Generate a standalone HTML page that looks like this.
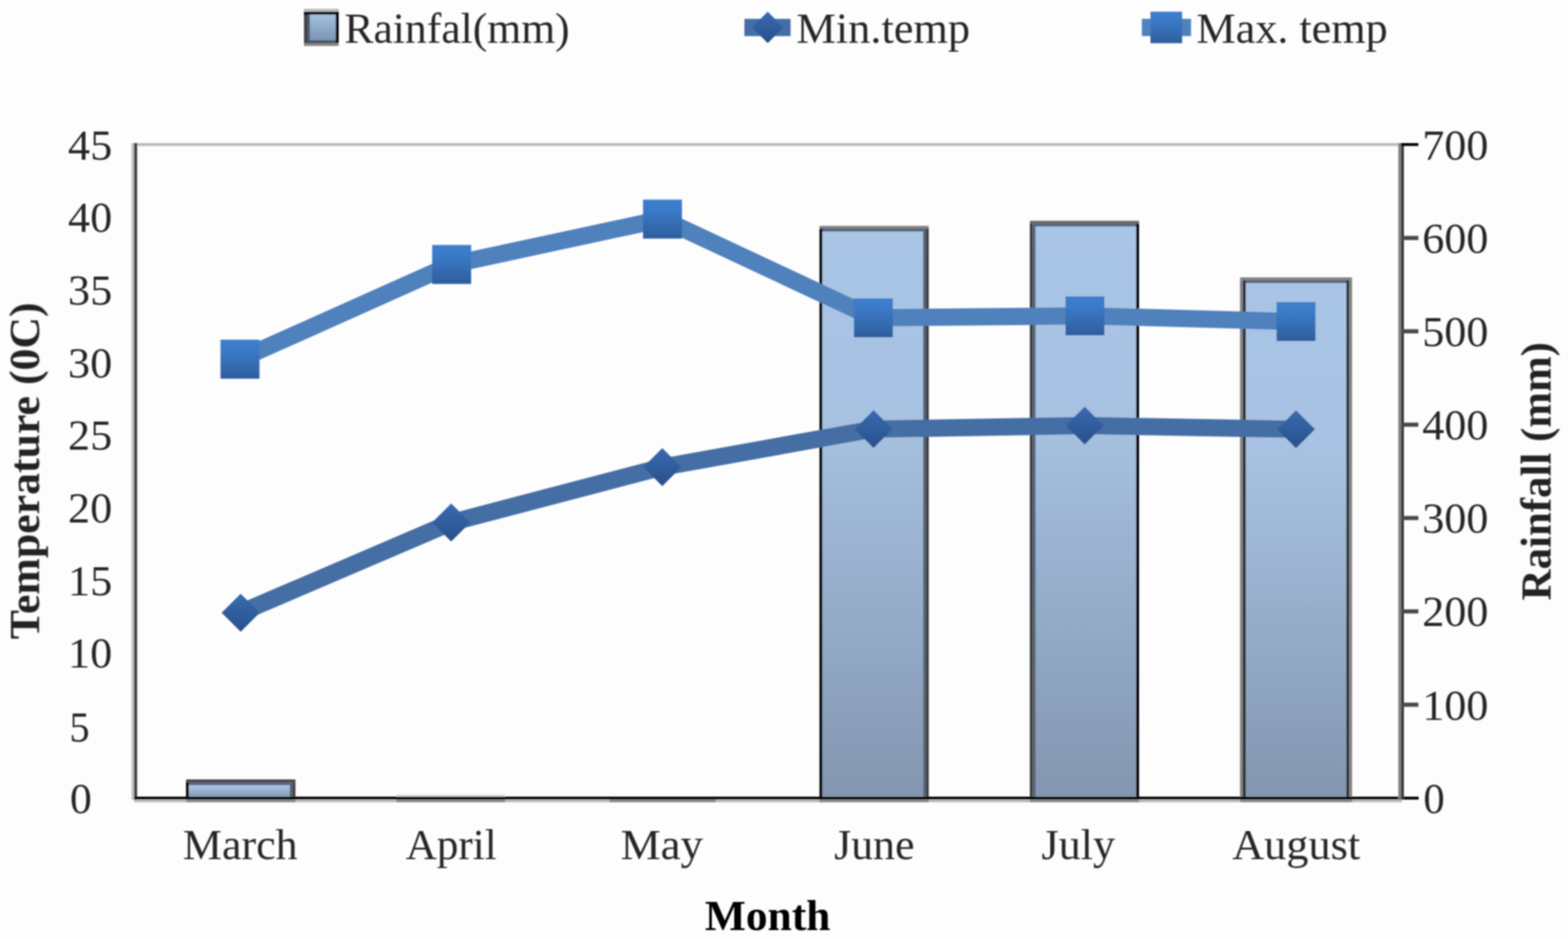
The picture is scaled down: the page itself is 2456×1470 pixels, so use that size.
<!DOCTYPE html>
<html lang="en"><head><meta charset="utf-8"><title>Rainfall and temperature by month</title>
<style>html,body{margin:0;padding:0;background:#fff;}body{width:2456px;height:1470px;overflow:hidden;}svg{display:block;}text{font-family:"Liberation Serif","Times New Roman",serif;font-size:67.5px;fill:#262626;}.b{font-weight:bold;fill:#000;}.v{fill:#242424;}</style></head><body>
<svg width="2456" height="1470" viewBox="0 0 2456 1470">
<defs>
<linearGradient id="gb" x1="0" y1="0" x2="0" y2="1"><stop offset="0" stop-color="#a9c5e6"/><stop offset="0.35" stop-color="#a7c1e1"/><stop offset="1" stop-color="#8396b0"/></linearGradient>
<linearGradient id="gl" x1="0" y1="0" x2="0" y2="1"><stop offset="0" stop-color="#a4c0e2"/><stop offset="1" stop-color="#7d93b2"/></linearGradient>
<linearGradient id="gs" x1="0" y1="0" x2="0" y2="1"><stop offset="0" stop-color="#3d7ecd"/><stop offset="0.25" stop-color="#3b7bc8"/><stop offset="1" stop-color="#2e5e9d"/></linearGradient>
<linearGradient id="gd" x1="0" y1="0" x2="0" y2="1"><stop offset="0" stop-color="#386bb0"/><stop offset="1" stop-color="#28508a"/></linearGradient>
<filter id="soft" x="0" y="0" width="2456" height="1470" filterUnits="userSpaceOnUse"><feGaussianBlur stdDeviation="0.9"/></filter>
</defs>
<rect x="0" y="0" width="2456" height="1470" fill="#fdfdfd"/>
<g filter="url(#soft)">
<rect x="210" y="224" width="1985" height="4.5" fill="#bbbbbb"/>
<rect x="206" y="224" width="4.2" height="1028" fill="#c0c0c0"/>
<rect x="210" y="224" width="4.8" height="1028" fill="#404040"/>
<rect x="210" y="1251.6" width="1986" height="4.4" fill="#bdbdbd"/>
<rect x="295.8" y="1224.7" width="158.0" height="22.8" fill="url(#gb)"/>
<rect x="291.4" y="1220.3" width="171.3" height="4.4" fill="#404040"/>
<rect x="295.8" y="1224.7" width="158.0" height="4.4" fill="#566578"/>
<rect x="291.4" y="1224.7" width="4.5" height="22.8" fill="#000000"/>
<rect x="453.8" y="1224.7" width="4.5" height="22.8" fill="#566578"/>
<rect x="458.2" y="1224.7" width="4.5" height="22.8" fill="#404040"/>
<rect x="291.4" y="1251.6" width="171.3" height="4.4" fill="#8c8c8c"/>
<rect x="1288.0" y="358.0" width="157.8" height="889.5" fill="url(#gb)"/>
<rect x="1283.6" y="353.6" width="171.1" height="4.4" fill="#808080"/>
<rect x="1288.0" y="358.0" width="157.8" height="4.4" fill="#566578"/>
<rect x="1283.6" y="358.0" width="4.5" height="889.5" fill="#000000"/>
<rect x="1445.8" y="358.0" width="4.5" height="889.5" fill="#566578"/>
<rect x="1450.2" y="358.0" width="4.5" height="889.5" fill="#3a3a3a"/>
<rect x="1283.6" y="1251.6" width="171.1" height="4.4" fill="#8c8c8c"/>
<rect x="1622.0" y="350.1" width="157.7" height="897.4" fill="url(#gb)"/>
<rect x="1613.1" y="345.7" width="171.0" height="4.4" fill="#686868"/>
<rect x="1622.0" y="350.1" width="157.7" height="4.4" fill="#566578"/>
<rect x="1613.1" y="350.1" width="4.5" height="897.4" fill="#3a3a3a"/>
<rect x="1617.5" y="350.1" width="4.5" height="897.4" fill="#566578"/>
<rect x="1779.6" y="350.1" width="4.5" height="897.4" fill="#000000"/>
<rect x="1613.1" y="1251.6" width="171.0" height="4.4" fill="#8c8c8c"/>
<rect x="1951.2" y="438.7" width="157.6" height="808.8" fill="url(#gb)"/>
<rect x="1942.3" y="434.3" width="175.4" height="4.4" fill="#808080"/>
<rect x="1951.2" y="438.7" width="157.6" height="4.4" fill="#566578"/>
<rect x="1942.3" y="438.7" width="4.5" height="808.8" fill="#808080"/>
<rect x="1946.8" y="438.7" width="4.5" height="808.8" fill="#2a2e33"/>
<rect x="2108.8" y="438.7" width="4.5" height="808.8" fill="#2a2e33"/>
<rect x="2113.2" y="438.7" width="4.5" height="808.8" fill="#808080"/>
<rect x="1942.3" y="1251.6" width="175.4" height="4.4" fill="#8c8c8c"/>
<rect x="621" y="1251.6" width="170" height="4.4" fill="#8c8c8c"/>
<rect x="955" y="1251.6" width="166" height="4.4" fill="#8c8c8c"/>
<rect x="621" y="1244.5" width="170" height="3" fill="#d0d0d0"/>
<rect x="210" y="1247.2" width="2012" height="4.5" fill="#000000"/>
<rect x="2190.2" y="224" width="4.5" height="1027.6" fill="#808080"/>
<rect x="2194.6" y="224" width="4.4" height="1027.6" fill="#383838"/>
<rect x="2194.6" y="369.3" width="27" height="6.5" fill="#4a4a4a"/>
<rect x="2194.6" y="515.4" width="27" height="6.5" fill="#4a4a4a"/>
<rect x="2194.6" y="661.6" width="27" height="6.5" fill="#4a4a4a"/>
<rect x="2194.6" y="807.7" width="27" height="6.5" fill="#4a4a4a"/>
<rect x="2194.6" y="953.9" width="27" height="6.5" fill="#4a4a4a"/>
<rect x="2194.6" y="1100.0" width="27" height="6.5" fill="#4a4a4a"/>
<rect x="2194.6" y="224" width="27" height="4.5" fill="#000000"/>
<polyline points="377.0,959.2 706.7,818.0 1037.4,731.2 1368.3,671.8 1699.0,666.3 2030.0,672.0" fill="none" stroke="#446ea5" stroke-width="27" stroke-linejoin="round" stroke-linecap="butt"/>
<polygon points="377.0,929.4 406.8,959.2 377.0,989.0 347.2,959.2" fill="url(#gd)"/>
<polygon points="706.7,788.2 736.5,818.0 706.7,847.8 676.9,818.0" fill="url(#gd)"/>
<polygon points="1037.4,701.4 1067.2,731.2 1037.4,761.0 1007.6,731.2" fill="url(#gd)"/>
<polygon points="1368.3,642.0 1398.1,671.8 1368.3,701.6 1338.5,671.8" fill="url(#gd)"/>
<polygon points="1699.0,636.5 1728.8,666.3 1699.0,696.1 1669.2,666.3" fill="url(#gd)"/>
<polygon points="2030.0,642.2 2059.8,672.0 2030.0,701.8 2000.2,672.0" fill="url(#gd)"/>
<polyline points="375.9,562.3 707.4,414.0 1037.7,343.0 1368.0,497.6 1699.4,494.5 2030.0,503.4" fill="none" stroke="#4f81bd" stroke-width="27" stroke-linejoin="round" stroke-linecap="butt"/>
<rect x="345.4" y="531.8" width="61" height="61" fill="url(#gs)"/>
<rect x="676.9" y="383.5" width="61" height="61" fill="url(#gs)"/>
<rect x="1007.2" y="312.5" width="61" height="61" fill="url(#gs)"/>
<rect x="1337.5" y="467.1" width="61" height="61" fill="url(#gs)"/>
<rect x="1668.9" y="464.0" width="61" height="61" fill="url(#gs)"/>
<rect x="1999.5" y="472.9" width="61" height="61" fill="url(#gs)"/>
<rect x="476.2" y="14.3" width="54" height="57.4" fill="#404040"/>
<rect x="476.2" y="14.3" width="54" height="4.4" fill="#bdbdbd"/>
<rect x="476.2" y="18.6" width="54" height="4.5" fill="#000000"/>
<rect x="525.8" y="18.6" width="4.5" height="49" fill="#000000"/>
<rect x="476.2" y="67.4" width="54" height="4.4" fill="#8a8a8a"/>
<rect x="480.7" y="23" width="45.1" height="44.4" fill="#4a5868"/>
<rect x="485.2" y="23" width="40.6" height="40" fill="url(#gl)"/>
<text transform="translate(539.42 67.20) scale(1.0125 1)">Rainfal(mm)</text>
<rect x="1166" y="29.5" width="72.3" height="27" fill="#446ea5"/>
<polygon points="1202.5,18.3 1227,43 1202.5,67.6 1178,43" fill="url(#gd)"/>
<text transform="translate(1247.59 67.20) scale(1.0286 1)">Min.temp</text>
<rect x="1788.5" y="29.5" width="77" height="27" fill="#4f81bd"/>
<rect x="1802" y="18.3" width="49.6" height="49.3" fill="url(#gs)"/>
<text transform="translate(1874.00 67.20) scale(1.0244 1)">Max. temp</text>
<text transform="translate(109.42 1272.70) scale(1.0179 1)">0</text>
<text transform="translate(108.77 1161.22) scale(0.9349 1)">5</text>
<text transform="translate(106.62 1045.34) scale(1.0244 1)">10</text>
<text transform="translate(106.62 931.67) scale(1.0244 1)">15</text>
<text transform="translate(106.62 817.99) scale(1.0244 1)">20</text>
<text transform="translate(106.62 704.31) scale(1.0244 1)">25</text>
<text transform="translate(106.62 590.63) scale(1.0244 1)">30</text>
<text transform="translate(106.62 476.96) scale(1.0244 1)">35</text>
<text transform="translate(106.62 363.28) scale(1.0244 1)">40</text>
<text transform="translate(106.62 249.60) scale(1.0244 1)">45</text>
<text transform="translate(2229.39 1272.70) scale(0.9900 1)">0</text>
<text transform="translate(2227.71 1126.54) scale(1.0241 1)">100</text>
<text transform="translate(2227.71 980.39) scale(1.0241 1)">200</text>
<text transform="translate(2227.71 834.23) scale(1.0241 1)">300</text>
<text transform="translate(2227.71 688.07) scale(1.0241 1)">400</text>
<text transform="translate(2227.71 541.91) scale(1.0241 1)">500</text>
<text transform="translate(2227.71 395.76) scale(1.0241 1)">600</text>
<text transform="translate(2227.71 249.60) scale(1.0241 1)">700</text>
<text transform="translate(286.61 1345.00) scale(1.0186 1)">March</text>
<text transform="translate(635.53 1345.00) scale(1.0000 1)">April</text>
<text transform="translate(972.27 1345.00) scale(1.0414 1)">May</text>
<text transform="translate(1306.53 1345.00) scale(1.0171 1)">June</text>
<text transform="translate(1631.32 1345.00) scale(1.0231 1)">July</text>
<text transform="translate(1930.01 1345.00) scale(1.0280 1)">August</text>
<text class="b" transform="translate(1104.11 1456.30) scale(1.0084 1)">Month</text>
<text class="b v" transform="translate(61.20 1000.73) rotate(-90) scale(1.0158 1)">Temperature (0C)</text>
<text class="b v" transform="translate(2428.70 939.87) rotate(-90) scale(0.9945 1)">Rainfall (mm)</text>
</g>
</svg></body></html>
